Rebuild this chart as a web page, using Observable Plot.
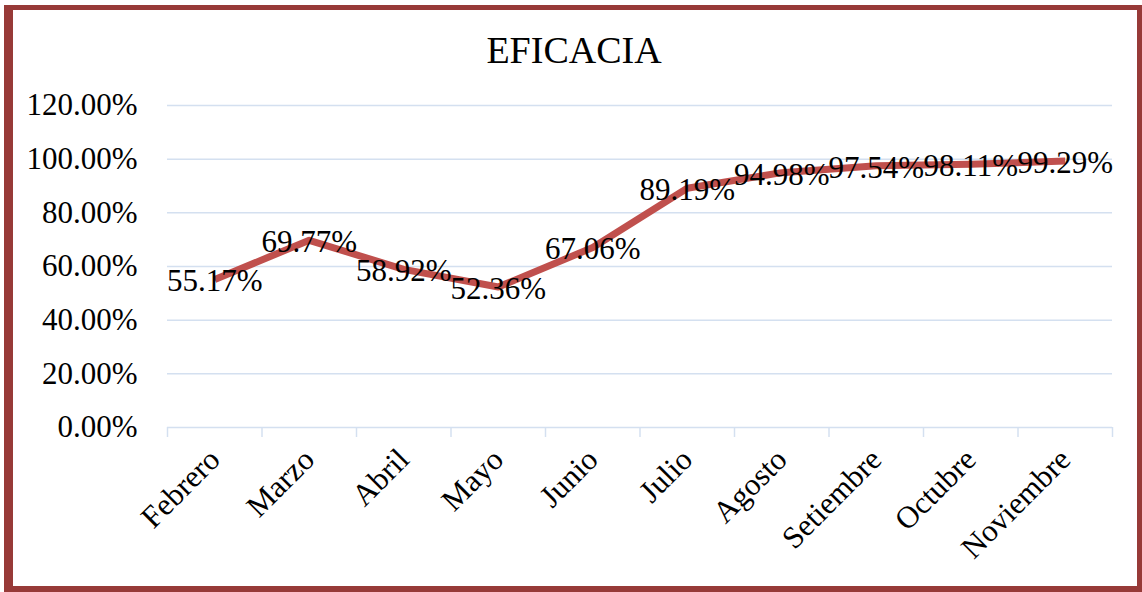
<!DOCTYPE html>
<html>
<head>
<meta charset="utf-8">
<script src="https://cdn.jsdelivr.net/npm/d3@7"></script>
<script src="https://cdn.jsdelivr.net/npm/@observablehq/plot@0.6"></script>
<style>
  html, body { margin: 0; padding: 0; background: #fff; }
  #wrap { position: relative; width: 1142px; height: 592px; overflow: hidden; font-family: "Liberation Serif", "Times New Roman", serif; }
  #frame { position: absolute; left: 4px; top: 5px; width: 1138px; height: 587px; box-sizing: border-box;
           border-style: solid; border-color: #973a38; border-width: 5px 5px 6px 9px; pointer-events: none; }
  #title { position: absolute; left: 0; width: 1148px; top: 28px; text-align: center; font-size: 38px; line-height: 44px; color: #000; }
  #chart { position: absolute; left: 0; top: 0; }
</style>
</head>
<body>
<div id="wrap">
  <div id="chart"></div>
  <div id="title">EFICACIA</div>
  <div id="frame"></div>
</div>
<script>
const months = ["Febrero", "Marzo", "Abril", "Mayo", "Junio", "Julio", "Agosto", "Setiembre", "Octubre", "Noviembre"];
const eficacia = [0.5517, 0.6977, 0.5892, 0.5236, 0.6706, 0.8919, 0.9498, 0.9754, 0.9811, 0.9929];
const yTicks = [0, 0.2, 0.4, 0.6, 0.8, 1.0, 1.2];

const data = months.map((m, i) => ({i, month: m, value: eficacia[i]}));
const boundaries = d3.range(months.length + 1).map(k => k - 0.5);

const font = "Liberation Serif, Times New Roman, serif";
const grid = "#d4e0f0";

const plot = Plot.plot({
  width: 1142,
  height: 592,
  marginLeft: 167,
  marginRight: 30,
  marginTop: 105,
  marginBottom: 165,
  style: {fontFamily: font, fontSize: "31px", color: "#000", background: "transparent"},
  x: {type: "linear", domain: [-0.5, months.length - 0.5], label: null},
  y: {domain: [0, 1.2], label: null},
  marks: [
    Plot.ruleY(yTicks, {stroke: grid, strokeWidth: 1.5}),
    Plot.ruleX(boundaries, {x: d => d, y1: 0, y2: 0, stroke: grid, strokeWidth: 1.5, insetBottom: -10}),
    Plot.axisY({ticks: yTicks, tickFormat: d3.format(".2%"), tickSize: 0, tickPadding: 30, fontSize: 31, fontFamily: font, label: null}),
    Plot.axisX({ticks: d3.range(months.length), tickFormat: i => months[i], tickSize: 0, tickRotate: -45, tickPadding: 27, fontSize: 31, fontFamily: font, label: null}),
    Plot.line(data, {x: "i", y: "value", stroke: "#c0504d", strokeWidth: 7, strokeLinejoin: "round", strokeLinecap: "butt"}),
    Plot.text(data, {x: "i", y: "value", text: d => d3.format(".2%")(d.value), fontSize: 31, fontFamily: font, fill: "#000", dy: 2})
  ]
});
document.getElementById("chart").append(plot);
</script>
</body>
</html>
